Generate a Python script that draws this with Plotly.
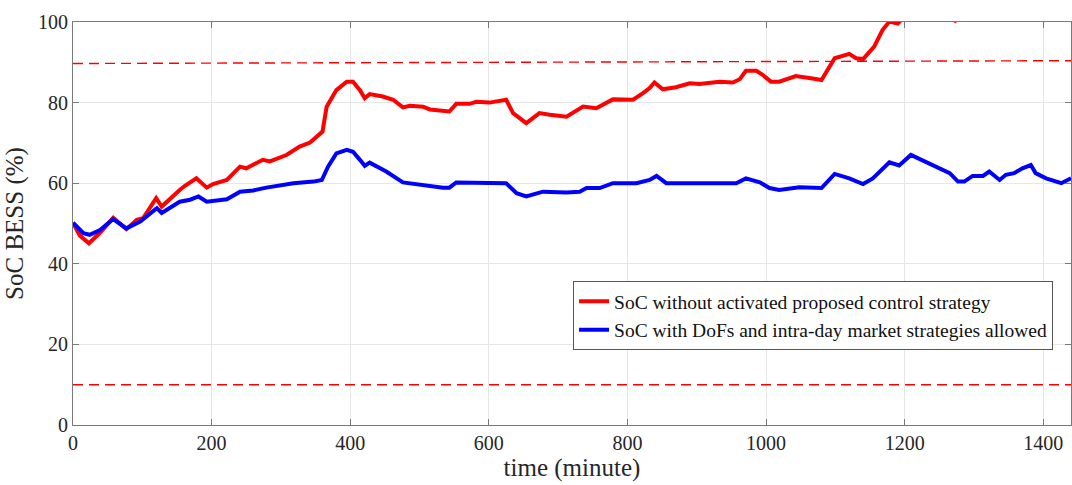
import plotly.graph_objects as go

# Red series: SoC without activated proposed control strategy
red_t = [0, 10, 23, 39, 58, 77, 92, 101, 120, 128, 154, 161, 178, 193, 202, 222, 241, 250, 274, 284,
         308, 327, 342, 356, 360, 366, 380, 395, 404, 414, 421, 428, 447, 462, 476, 486, 505, 515,
         534, 543, 553, 572, 582, 601, 625, 635, 654, 673, 688, 712, 736, 755, 779, 808, 822, 832,
         839, 851, 870, 890, 904, 918, 933, 952, 962, 971, 986, 995, 1007, 1019, 1029, 1043, 1067,
         1080, 1099, 1120, 1130, 1140, 1156, 1168, 1178, 1190, 1200, 1230, 1262, 1268, 1273, 1278,
         1290, 1330, 1380, 1440]
red_v = [50.1, 47.0, 45.1, 47.7, 51.4, 48.6, 50.9, 51.3, 56.3, 54.2, 58.3, 59.3, 61.2, 58.9, 59.8,
         60.8, 64.1, 63.7, 65.8, 65.4, 67.0, 69.1, 70.1, 72.0, 72.8, 79.0, 83.1, 85.2, 85.2, 83.1,
         81.1, 82.1, 81.5, 80.7, 78.8, 79.2, 79.0, 78.3, 77.8, 77.8, 79.7, 79.7, 80.2, 80.0, 80.7,
         77.4, 74.9, 77.4, 77.0, 76.5, 79.0, 78.6, 80.8, 80.7, 82.3, 83.6, 85.0, 83.3, 83.8, 84.8,
         84.6, 85.0, 85.2, 85.0, 85.8, 87.9, 87.9, 86.9, 85.2, 85.2, 85.8, 86.6, 86.0, 85.6, 91.0,
         92.1, 91.0, 90.8, 93.9, 98.0, 100.1, 99.6, 101.5, 102.5, 101.5, 100.9, 100.3, 100.9,
         101.5, 102.5, 103.5, 104.0]

# Blue series: SoC with DoFs and intra-day market strategies allowed
blue_t = [0, 15, 24, 39, 58, 77, 97, 121, 128, 154, 169, 181, 193, 222, 241, 260, 279, 303, 318,
          347, 359, 368, 380, 395, 404, 414, 421, 428, 452, 476, 496, 515, 534, 543, 553, 625, 640,
          654, 678, 712, 731, 741, 760, 779, 813, 832, 842, 856, 918, 957, 971, 991, 1005, 1019,
          1048, 1080, 1099, 1120, 1140, 1154, 1178, 1192, 1209, 1241, 1265, 1277, 1286, 1298, 1313,
          1322, 1337, 1346, 1358, 1370, 1382, 1389, 1404, 1426, 1440]
blue_v = [50.2, 47.6, 47.2, 48.4, 51.1, 48.8, 50.5, 53.8, 52.6, 55.4, 55.9, 56.7, 55.4, 56.0, 57.9,
          58.2, 58.9, 59.6, 60.0, 60.4, 60.8, 64.1, 67.4, 68.3, 67.8, 65.8, 64.3, 65.1, 62.9, 60.2,
          59.8, 59.2, 58.9, 58.9, 60.2, 60.0, 57.5, 56.7, 57.9, 57.7, 57.9, 58.8, 58.8, 60.0, 60.0,
          60.8, 61.8, 60.0, 60.0, 60.0, 61.2, 60.2, 58.8, 58.3, 59.0, 58.8, 62.3, 61.2, 59.8, 61.2,
          65.2, 64.4, 67.0, 64.5, 62.5, 60.4, 60.4, 61.8, 61.8, 62.9, 60.8, 62.1, 62.5, 63.7, 64.5,
          62.5, 61.2, 60.0, 61.2]

# SoC limits
limit_t = [0, 1440]
upper_limit = [89.7, 90.4]
lower_limit = [10.0, 10.0]

x_ticks = [0, 200, 400, 600, 800, 1000, 1200, 1400]
y_ticks = [0, 20, 40, 60, 80, 100]

FONT = "Liberation Serif"
AX_COLOR = "#262626"

fig = go.Figure()
fig.add_trace(go.Scatter(x=limit_t, y=upper_limit, mode="lines", showlegend=False,
                         line=dict(color="#ff0000", width=1.4, dash="10px,6px")))
fig.add_trace(go.Scatter(x=limit_t, y=lower_limit, mode="lines", showlegend=False,
                         line=dict(color="#ff0000", width=1.4, dash="10px,6px")))
fig.add_trace(go.Scatter(x=red_t, y=red_v, mode="lines",
                         name="SoC without activated proposed control strategy",
                         line=dict(color="#ff0000", width=4)))
fig.add_trace(go.Scatter(x=blue_t, y=blue_v, mode="lines",
                         name="SoC with DoFs and intra-day market strategies allowed",
                         line=dict(color="#0000ff", width=4)))

axis_common = dict(showline=True, linecolor="#7a7a7a", linewidth=1, mirror="ticks",
                   ticks="inside", ticklen=6, tickcolor="#7a7a7a",
                   showgrid=True, gridcolor="#e6e6e6", gridwidth=1, zeroline=False,
                   tickfont=dict(family=FONT, size=20, color=AX_COLOR))

fig.update_layout(
    width=1072, height=485,
    margin=dict(l=73, r=1, t=22, b=60),
    paper_bgcolor="white", plot_bgcolor="white",
    font=dict(family=FONT, color=AX_COLOR),
    xaxis=dict(range=[0, 1440], tickvals=x_ticks,
               title=dict(text="time (minute)", font=dict(family=FONT, size=25, color=AX_COLOR),
                          standoff=4),
               **axis_common),
    yaxis=dict(range=[0, 100], tickvals=y_ticks,
               title=dict(text="SoC BESS (%)", font=dict(family=FONT, size=25, color=AX_COLOR),
                          standoff=7),
               **axis_common),
    legend=dict(x=0.982, y=0.357, xanchor="right", yanchor="top",
                bgcolor="white", bordercolor="#555555", borderwidth=1,
                font=dict(family=FONT, size=19.5, color="#111111"),
                tracegroupgap=0, itemwidth=30),
)

fig.write_html("out.html")
